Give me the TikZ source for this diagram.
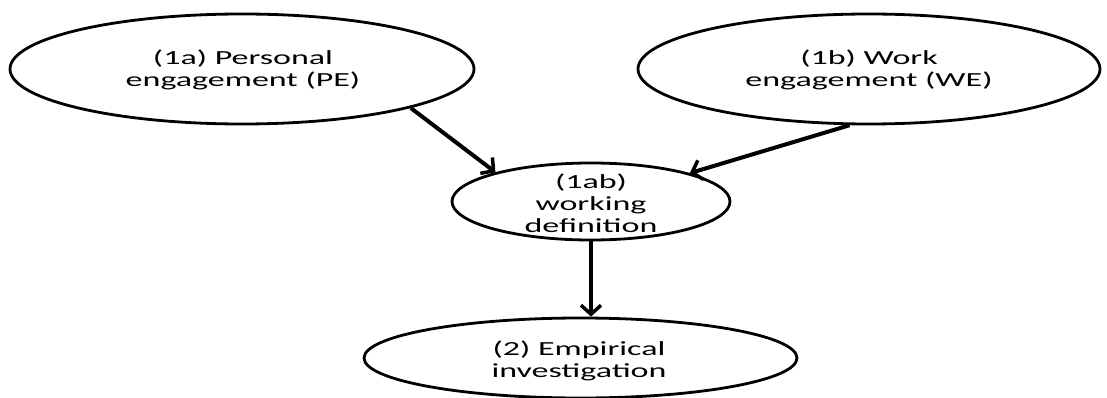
\documentclass[tikz,border=0pt]{standalone}
\usepackage{fontspec}
\setmainfont{Carlito}[FakeStretch=1.7]
\usetikzlibrary{shapes.geometric,arrows.meta}
\tikzset{
  oval/.style={draw=black, line width=2.8pt, ellipse, inner sep=0pt},
  caption/.style={font=\fontsize{20pt}{22pt}\selectfont, align=center, inner sep=0pt},
  link/.style={line width=4pt, -{Straight Barb[length=9pt, width=20pt, line width=3.5pt]}},
}
\begin{document}
\begin{tikzpicture}[x=1pt, y=1pt]
  \useasboundingbox (0,0) rectangle (1107,-398);
  % stages
  \node[oval, minimum width=464pt, minimum height=110pt] (pe) at (242,-69) {};
  \node[oval, minimum width=462pt, minimum height=110pt] (we) at (869,-69) {};
  \node[oval, minimum width=278pt, minimum height=77pt] (wd) at (591,-201.5) {};
  \node[oval, minimum width=433pt, minimum height=80pt] (ei) at (580.5,-358) {};
  % labels
  \node[caption] (pe-t) at (243,-70) {(1a) Personal\\engagement (PE)};
  \node[caption] (we-t) at (869,-70) {(1b) Work\\engagement (WE)};
  \node[caption] (wd-t) at (591,-203) {(1ab)\\working\\definition};
  \node[caption] (ei-t) at (579,-361) {(2) Empirical\\investigation};
  % flow
  \draw[link] (pe.-13) -- (wd.163);
  \draw[link] (we.-109) -- (wd.16);
  \draw[link] (wd.south) -- (wd.south |- ei.north);
\end{tikzpicture}
\end{document}
